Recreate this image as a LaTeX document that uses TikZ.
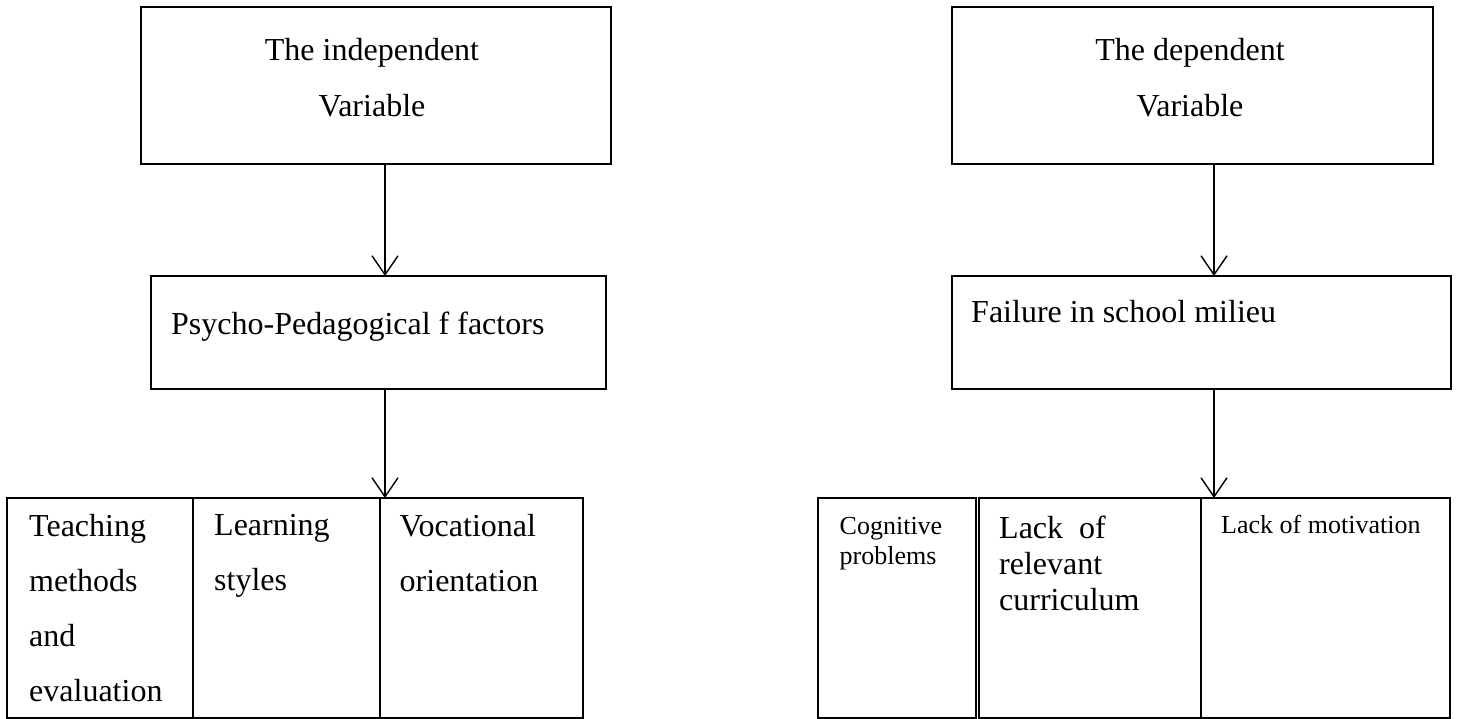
\documentclass[tikz,border=0pt]{standalone}
\usepackage{fontspec}
\setmainfont{Liberation Serif}
\usetikzlibrary{arrows.meta}
\begin{document}
\begin{tikzpicture}[x=1pt,y=-1pt,
  boxnode/.style={draw, line width=1.5pt, inner sep=0pt, outer sep=0pt, anchor=north west},
  bigtxt/.style={inner sep=0pt, font=\fontsize{32}{56}\selectfont},
  arr/.style={line width=1.4pt, -{Straight Barb[length=19pt,width=26pt,line width=1.4pt]}}]
\useasboundingbox (0,0) rectangle (1458,719);
% top boxes
\node[boxnode, minimum width=470pt, minimum height=157pt] (ind) at (141,7) {};
\node[boxnode, minimum width=481pt, minimum height=157pt] (dep) at (952,7) {};
\node[bigtxt, align=center, anchor=north] (indt) at (372,38) {The independent\\Variable};
\node[bigtxt, align=center, anchor=north] (dept) at (1190,38) {The dependent\\Variable};
% middle boxes
\node[boxnode, minimum width=455pt, minimum height=113pt] (pp) at (151,276) {};
\node[boxnode, minimum width=499pt, minimum height=113pt] (fail) at (952,276) {};
\node[bigtxt, anchor=base west] (ppt) at (171,334) {Psycho-Pedagogical f factors};
\node[bigtxt, anchor=base west] (failt) at (971,322) {Failure in school milieu};
% left table
\node[boxnode, minimum width=186pt, minimum height=220pt] (c1) at (7,498) {};
\node[boxnode, minimum width=187pt, minimum height=220pt] (c2) at (193,498) {};
\node[boxnode, minimum width=203pt, minimum height=220pt] (c3) at (380,498) {};
\node[inner sep=0pt, anchor=north west, align=left, font=\fontsize{32}{55}\selectfont] (c1t) at (29,514) {Teaching\\methods\\and\\evaluation};
\node[inner sep=0pt, anchor=north west, align=left, font=\fontsize{32}{55}\selectfont] (c2t) at (214,514) {Learning\\styles};
\node[inner sep=0pt, anchor=north west, align=left, font=\fontsize{32}{55}\selectfont] (c3t) at (399.5,514) {Vocational\\orientation};
% right table
\node[boxnode, minimum width=158pt, minimum height=220pt] (c4) at (818,498) {};
\node[boxnode, minimum width=222pt, minimum height=220pt] (c5) at (979,498) {};
\node[boxnode, minimum width=249pt, minimum height=220pt] (c6) at (1201,498) {};
\node[inner sep=0pt, anchor=north west, align=left, font=\fontsize{26}{30}\selectfont] (c4t) at (839.5,517) {Cognitive\\problems};
\node[inner sep=0pt, anchor=north west, align=left, font=\fontsize{32}{36}\selectfont] (c5t) at (999,516) {Lack\ \ of\\relevant\\curriculum};
\node[inner sep=0pt, anchor=north west, align=left, font=\fontsize{26}{30}\selectfont] (c6t) at (1221,515) {Lack of motivation};
% arrows
\coordinate (ax) at (385,0);
\coordinate (bx) at (1214,0);
\draw[arr] (ind.south -| ax) -- (pp.north -| ax);
\draw[arr] (pp.south -| ax) -- (c3.north -| ax);
\draw[arr] (dep.south -| bx) -- (fail.north -| bx);
\draw[arr] (fail.south -| bx) -- (c6.north -| bx);
\end{tikzpicture}
\end{document}
